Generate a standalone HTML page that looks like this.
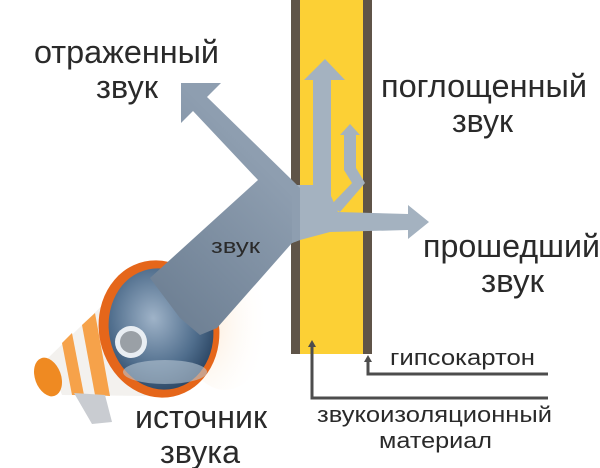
<!DOCTYPE html>
<html><head><meta charset="utf-8"><style>
html,body{margin:0;padding:0;background:#fff;}
svg{display:block}
text{font-family:"Liberation Sans","DejaVu Sans",sans-serif;fill:#2a2a2a}
</style></head><body>
<svg width="600" height="468" viewBox="0 0 600 468" xmlns="http://www.w3.org/2000/svg">
<defs>
<linearGradient id="beam" x1="160" y1="320" x2="290" y2="190" gradientUnits="userSpaceOnUse">
<stop offset="0" stop-color="#6c7e92"/><stop offset="1" stop-color="#8e9eb0"/></linearGradient>
<radialGradient id="inner" cx="0.45" cy="0.4" r="0.6">
<stop offset="0" stop-color="#9fb3c8"/><stop offset="0.7" stop-color="#4f6d8c"/><stop offset="1" stop-color="#2f4a68"/></radialGradient>
<radialGradient id="glow" cx="0.2" cy="0.5" r="0.8">
<stop offset="0" stop-color="#fbe3c8" stop-opacity="0.9"/><stop offset="1" stop-color="#fff" stop-opacity="0"/></radialGradient>
</defs>

<!-- glow -->
<ellipse cx="225" cy="320" rx="45" ry="70" fill="url(#glow)"/>

<!-- wall -->
<rect x="291" y="0" width="81" height="354" fill="#5f5448"/>
<rect x="300" y="0" width="63" height="354" fill="#fcd035"/>

<!-- leader lines -->
<g stroke="#4d4d4d" stroke-width="3" fill="none">
<polyline points="368,360 368,374 548,374"/>
<polyline points="312,346 312,398 548,398"/>
</g>
<polygon points="368,355 364,362 372,362" fill="#4d4d4d"/>
<polygon points="312,340 308,347 316,347" fill="#4d4d4d"/>

<!-- megaphone cone -->
<polygon points="112,296 48,358 62,395 150,396" fill="#f3f1ee"/>
<polygon points="95,313 82,325 95,395 110,396" fill="#f6a24a"/>
<polygon points="72,333 62,343 72,395 84,395" fill="#f6a24a"/>
<ellipse cx="48" cy="377" rx="13" ry="20" fill="#ef8a22" transform="rotate(-20 48 377)"/>
<polygon points="74,393 105,395 112,422 92,424" fill="#c9ccd1"/>
<!-- ring -->
<ellipse cx="159" cy="329" rx="60" ry="69" fill="#e5661a" transform="rotate(-12 159 329)"/>
<ellipse cx="161" cy="329" rx="52" ry="61" fill="url(#inner)" transform="rotate(-12 161 329)"/>
<ellipse cx="165" cy="372" rx="42" ry="12" fill="#b8c6d4" opacity="0.6"/>
<circle cx="131" cy="342" r="16" fill="#e9eef3"/>
<circle cx="131" cy="342" r="11" fill="#9aa0a6"/>

<!-- beam + reflected -->
<polygon fill="url(#beam)" points="150,278 258,180 193,111 181,123 181,83 221,83 207,97 292,180 292,243 217,328 200,335 180,318"/>

<!-- inside wall arrows -->
<g fill="#a4b2c0">
<path d="M292,185 L313,185 L313,80 L304,80 L325,59 L345,80 L331,80 L331,196 L338,212 L408,214 L408,205 L429,222 L408,239 L408,230 L330,232 L300,240 L292,243 Z"/>
<polygon points="340,135 350,124 360,135 356,135 356,168 365,183 340,212 330,206 352,183 344,170 344,135"/>
</g>
<polygon points="292,180 300,188 300,240 292,243" fill="#8e9eb0"/>

<!-- labels -->
<text x="34" y="63" font-size="32" textLength="185" lengthAdjust="spacingAndGlyphs">отраженный</text>
<text x="96" y="98" font-size="32" textLength="62" lengthAdjust="spacingAndGlyphs">звук</text>
<text x="381" y="97" font-size="32" textLength="206" lengthAdjust="spacingAndGlyphs">поглощенный</text>
<text x="452" y="132" font-size="32" textLength="61" lengthAdjust="spacingAndGlyphs">звук</text>
<text x="423" y="257" font-size="32" textLength="177" lengthAdjust="spacingAndGlyphs">прошедший</text>
<text x="481" y="292" font-size="32" textLength="63" lengthAdjust="spacingAndGlyphs">звук</text>
<text x="211" y="253" font-size="20" textLength="49" lengthAdjust="spacingAndGlyphs" fill="#1e2a3a">звук</text>
<text x="135" y="428" font-size="32" textLength="132" lengthAdjust="spacingAndGlyphs">источник</text>
<text x="160" y="463" font-size="32" textLength="80" lengthAdjust="spacingAndGlyphs">звука</text>
<text x="390" y="365" font-size="22" textLength="145" lengthAdjust="spacingAndGlyphs">гипсокартон</text>
<text x="317" y="422" font-size="22" textLength="235" lengthAdjust="spacingAndGlyphs">звукоизоляционный</text>
<text x="379" y="448" font-size="22" textLength="113" lengthAdjust="spacingAndGlyphs">материал</text>
</svg>
</body></html>
